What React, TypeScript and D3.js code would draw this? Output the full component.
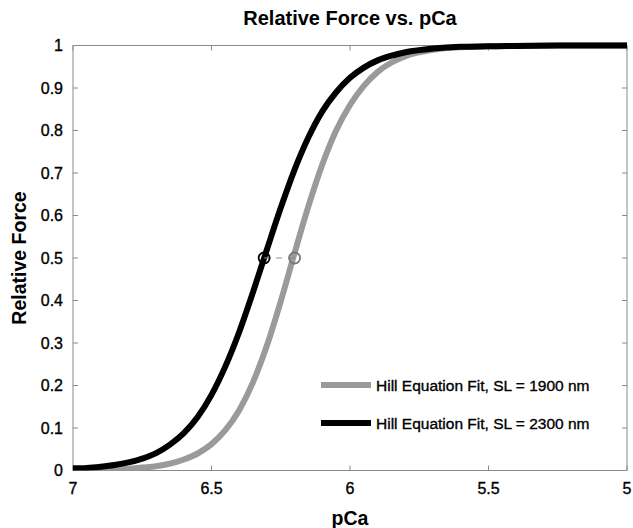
import React from 'react'
import * as d3 from 'd3'

// values (every 0.05 pCa along each fit curve)
const pCaGrid = [7.0, 6.95, 6.9, 6.85, 6.8, 6.75, 6.7, 6.65, 6.6, 6.55, 6.5, 6.45, 6.4, 6.35, 6.3, 6.25, 6.2, 6.15, 6.1, 6.05, 6.0, 5.95, 5.9, 5.85, 5.8, 5.7, 5.6, 5.5, 5.25, 5.0]
const force1900 = [0.001, 0.001, 0.002, 0.003, 0.004, 0.007, 0.010, 0.016, 0.026, 0.040, 0.062, 0.095, 0.142, 0.208, 0.294, 0.398, 0.512, 0.622, 0.72, 0.80, 0.86, 0.905, 0.938, 0.96, 0.975, 0.99, 0.996, 0.998, 1.0, 1.0]
const force2300 = [0.005, 0.006, 0.009, 0.013, 0.019, 0.028, 0.041, 0.061, 0.088, 0.126, 0.178, 0.245, 0.326, 0.42, 0.52, 0.618, 0.708, 0.784, 0.845, 0.89, 0.924, 0.948, 0.965, 0.976, 0.984, 0.993, 0.997, 0.998, 1.0, 1.0]

const halfPoints = [6.31, 6.2] // pCa50 for 2300, 1900
const xTicks = [7, 6.5, 6, 5.5, 5]
const yTicks = [0, 0.1, 0.2, 0.3, 0.4, 0.5, 0.6, 0.7, 0.8, 0.9, 1]
const legendLabels = ['Hill Equation Fit, SL = 1900 nm', 'Hill Equation Fit, SL = 2300 nm']

const GRAY = '#9a9a9a'
const AXIS = '#8a8a8a'
const FONT = '"Liberation Sans", Arial, Helvetica, sans-serif'

export default function App() {
  const width = 633,
    height = 528,
    left = 73,
    right = 627,
    top = 45.5,
    bottom = 470.5,
    tickLen = 5

  const x = d3.scaleLinear().domain([7, 5]).range([left, right])
  const y = d3.scaleLinear().domain([0, 1]).range([bottom, top])

  const line = d3.line<[number, number]>()
    .x(d => x(d[0]))
    .y(d => y(d[1]))
    .curve(d3.curveMonotoneX)

  const series = [
    {pts: pCaGrid.map((p, i) => [p, force1900[i]] as [number, number]), color: GRAY},
    {pts: pCaGrid.map((p, i) => [p, force2300[i]] as [number, number]), color: '#000'},
  ]

  // slightly heavier text, like the reference
  const heavy = {stroke: '#000', strokeWidth: 0.35}

  return (
    <svg width={width} height={height} style={{position: 'absolute', left: 0, top: 0, background: '#fff'}}
      fontFamily={FONT}>
      <rect x={0} y={0} width={width} height={height} fill='#fff'/>

      <defs>
        <clipPath id='plot'>
          <rect x={left} y={top - 4} width={right - left + 4} height={bottom - top + 4}/>
        </clipPath>
      </defs>

      {/* box */}
      <rect x={left} y={top} width={right - left} height={bottom - top} fill='none' stroke={AXIS} strokeWidth={1}/>

      {xTicks.map(t => (
        <g key={'x' + t}>
          <line x1={x(t)} x2={x(t)} y1={bottom} y2={bottom - tickLen} stroke={AXIS}/>
          <line x1={x(t)} x2={x(t)} y1={top} y2={top + tickLen} stroke={AXIS}/>
          <text x={x(t)} y={494} textAnchor='middle' fontSize={16} fill='#000' {...heavy}>{t}</text>
        </g>
      ))}

      {yTicks.map(t => (
        <g key={'y' + t}>
          <line x1={left} x2={left + tickLen} y1={y(t)} y2={y(t)} stroke={AXIS}/>
          <line x1={right} x2={right - tickLen} y1={y(t)} y2={y(t)} stroke={AXIS}/>
          <text x={left - 10} y={y(t) + 5.5} textAnchor='end' fontSize={16} fill='#000' {...heavy}>{t}</text>
        </g>
      ))}

      <g clipPath='url(#plot)'>
        {series.map((s, i) => (
          <path key={i} d={line(s.pts) || ''} fill='none' stroke={s.color} strokeWidth={6}/>
        ))}
      </g>

      {/* pCa50 markers */}
      <line x1={x(halfPoints[0])} x2={x(halfPoints[1])} y1={y(0.5)} y2={y(0.5)}
        stroke='#888' strokeWidth={1} strokeDasharray='6,6'/>
      <circle cx={x(halfPoints[0])} cy={y(0.5)} r={5.5} fill='none' stroke='#000' strokeWidth={1.8}/>
      <circle cx={x(halfPoints[1])} cy={y(0.5)} r={5.5} fill='none' stroke='#777' strokeWidth={1.8}/>

      {/* legend */}
      {legendLabels.map((lab, i) => {
        const ly = 385 + i * 38
        return (
          <g key={lab}>
            <line x1={321} x2={371} y1={ly} y2={ly} stroke={i === 0 ? GRAY : '#000'} strokeWidth={6}/>
            <text x={376} y={ly + 5.5} fontSize={15.5} fill='#000' {...heavy}>{lab}</text>
          </g>
        )
      })}

      <text x={(left + right) / 2} y={25} textAnchor='middle' fontSize={20} fontWeight='bold' fill='#000'>
        Relative Force vs. pCa
      </text>
      <text x={(left + right) / 2} y={525} textAnchor='middle' fontSize={19.5} fontWeight='bold' fill='#000'>pCa</text>
      <text transform={`translate(26,${(top + bottom) / 2}) rotate(-90)`} textAnchor='middle' fontSize={19.5}
        fontWeight='bold' fill='#000'>Relative Force</text>
    </svg>
  )
}
